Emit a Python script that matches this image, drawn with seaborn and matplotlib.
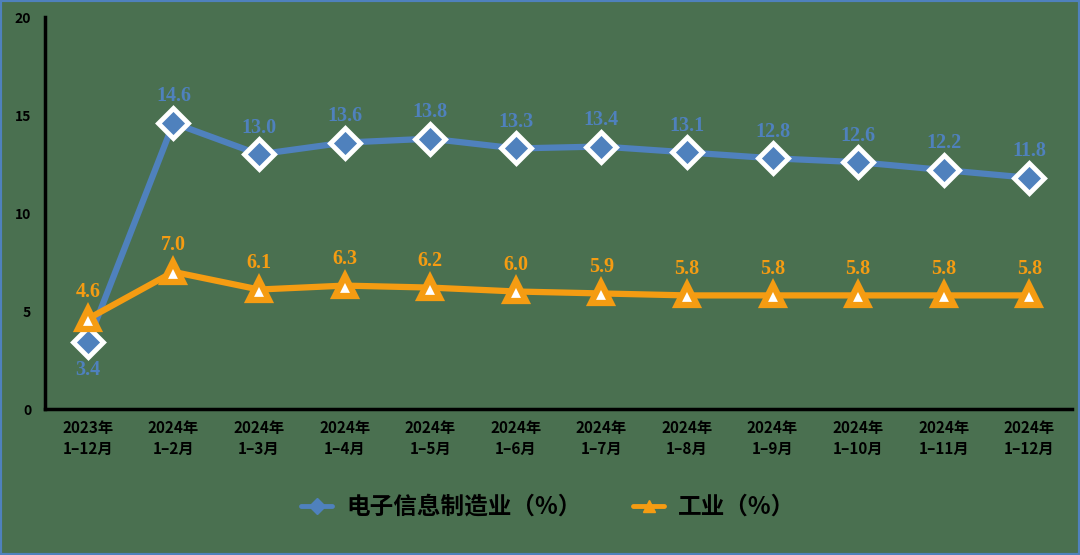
import numpy as np
import matplotlib
matplotlib.use("Agg")
import matplotlib.pyplot as plt
import seaborn as sns

# 数据
categories = ["2023年\n1–12月", "2024年\n1–2月", "2024年\n1–3月", "2024年\n1–4月",
              "2024年\n1–5月", "2024年\n1–6月", "2024年\n1–7月", "2024年\n1–8月",
              "2024年\n1–9月", "2024年\n1–10月", "2024年\n1–11月", "2024年\n1–12月"]
electronics = [3.4, 14.6, 13.0, 13.6, 13.8, 13.3, 13.4, 13.1, 12.8, 12.6, 12.2, 11.8]
industry = [4.6, 7.0, 6.1, 6.3, 6.2, 6.0, 5.9, 5.8, 5.8, 5.8, 5.8, 5.8]
yticks = [0, 5, 10, 15, 20]

bg = "#4a7050"
blue = "#4f81bd"
orange = "#f59c12"

sns.set_style("white")
plt.rcParams["font.family"] = ["Noto Sans CJK SC", "DejaVu Sans"]

fig = plt.figure(figsize=(10.8, 5.55), dpi=100, facecolor=bg)
ax = fig.add_axes([0.0417, 0.263, 0.951, 0.706])
ax.set_facecolor(bg)

x = np.arange(len(categories))
sns.lineplot(x=x, y=electronics, ax=ax, color=blue, lw=4.5, marker="D",
             markersize=15, markerfacecolor=blue, markeredgecolor="white",
             markeredgewidth=3.5, label="电子信息制造业（%）", zorder=3)
sns.lineplot(x=x, y=industry, ax=ax, color=orange, lw=4.5, marker="^",
             markersize=15, markerfacecolor="white", markeredgecolor=orange,
             markeredgewidth=4.5, label="工业（%）", zorder=4)

# 数据标签
lab_font = dict(family=["Liberation Serif"], fontweight="bold", fontsize=14.5)
for i, v in enumerate(electronics):
    if i == 0:
        ax.annotate(f"{v:.1f}", (i, v), xytext=(0, -13), textcoords="offset points",
                    ha="center", va="top", color=blue, **lab_font)
    else:
        ax.annotate(f"{v:.1f}", (i, v), xytext=(0, 12), textcoords="offset points",
                    ha="center", va="bottom", color=blue, **lab_font)
for i, v in enumerate(industry):
    ax.annotate(f"{v:.1f}", (i, v), xytext=(0, 12), textcoords="offset points",
                ha="center", va="bottom", color=orange, **lab_font)

ax.set_xlim(-0.5, len(categories) - 0.5)
ax.set_ylim(0, 20)
ax.set_yticks(yticks)
ax.set_yticklabels([str(t) for t in yticks], fontsize=10, fontweight="bold")
ax.set_xticks(x)
ax.set_xticklabels(categories, fontsize=11, fontweight="bold", linespacing=1.4)
ax.tick_params(axis="both", length=0, colors="black", labelcolor="black")
ax.tick_params(axis="y", pad=10)
ax.tick_params(axis="x", pad=8)

for s in ["top", "right"]:
    ax.spines[s].set_visible(False)
for s in ["left", "bottom"]:
    ax.spines[s].set_color("black")
    ax.spines[s].set_linewidth(2.5)

leg = ax.legend(loc="center", bbox_to_anchor=(0.49, -0.25), ncol=2,
                frameon=False, handlelength=1.3, columnspacing=2.2,
                handletextpad=0.6, labelcolor="black",
                prop=dict(family=["Noto Sans CJK SC"], weight="bold", size=17))
for h, c in zip(leg.legend_handles, [blue, orange]):
    h.set_markersize(8)
    h.set_markerfacecolor(c)
    h.set_markeredgecolor(c)
    h.set_markeredgewidth(1)
    h.set_linewidth(3.5)

# 外框
fig.patches.append(plt.Rectangle((0, 0), 1, 1, transform=fig.transFigure,
                                 fill=False, edgecolor=blue, linewidth=3))

fig.savefig("out.png", dpi=100, facecolor=bg)
